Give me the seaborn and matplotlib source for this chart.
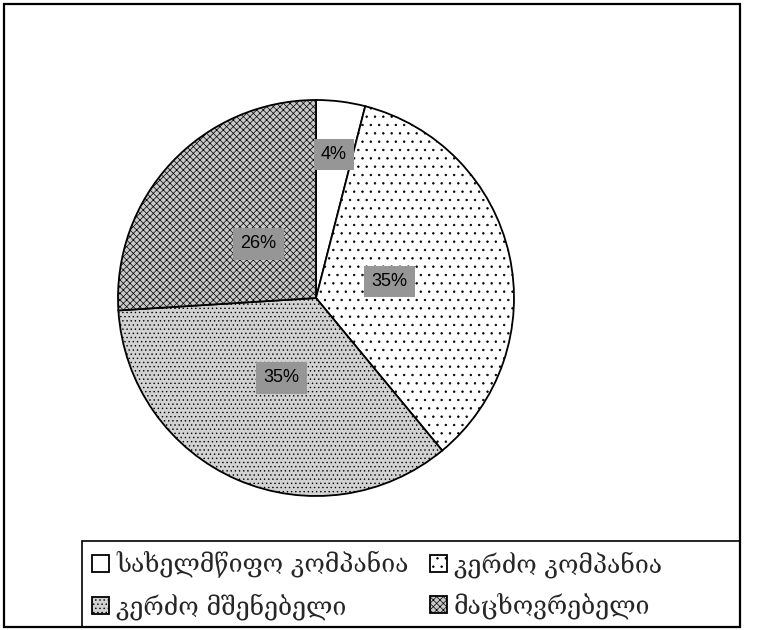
import matplotlib
matplotlib.use("Agg")
import matplotlib.pyplot as plt
import numpy as np
import seaborn as sns
from matplotlib.patches import Rectangle

sns.set_theme(style="white")
plt.rcParams["font.family"] = ["DejaVu Serif", "DejaVu Sans"]
plt.rcParams["hatch.linewidth"] = 0.5

# data
categories = ["სახელმწიფო კომპანია", "კერძო კომპანია", "კერძო მშენებელი", "მაცხოვრებელი"]
shares = [4, 35, 35, 26]

# styles
hatches = ["", "..", "....", "xxxxx"]
faces = ["white", "white", "#d2d2d2", "#c8c8c8"]
label_r = [0.73, 0.38, 0.44, 0.40]

W, H = 779, 630
fig = plt.figure(figsize=(W / 100, H / 100), dpi=100)

cx, cy, R = 316, 298, 198
ax = fig.add_axes([(cx - R) / W, (H - cy - R) / H, 2 * R / W, 2 * R / H])
wedges, _ = ax.pie(shares, startangle=90, counterclock=False,
                   colors=faces, wedgeprops=dict(edgecolor="black", linewidth=1.3))
for w, h in zip(wedges, hatches):
    w.set_hatch(h)

for w, val, r in zip(wedges, shares, label_r):
    ang = np.deg2rad((w.theta1 + w.theta2) / 2)
    ax.text(r * np.cos(ang), r * np.sin(ang), f"{val}%", ha="center", va="center",
            fontsize=13, family="Liberation Sans", color="black",
            bbox=dict(boxstyle="square,pad=0.4", facecolor="#969696", edgecolor="none"))

ax.set_xlim(-1, 1)
ax.set_ylim(-1, 1)
ax.set_aspect("equal")
ax.axis("off")

# outer frame and legend box
fig.add_artist(Rectangle((4 / W, 3 / H), 736 / W, 623 / H, transform=fig.transFigure,
                         fill=False, edgecolor="black", linewidth=1.6))
fig.add_artist(Rectangle((82 / W, 3 / H), 658 / W, 86 / H, transform=fig.transFigure,
                         fill=False, edgecolor="black", linewidth=1.2))

# row-major order: 1 2 / 3 4
order = [0, 2, 1, 3]
leg = fig.legend([wedges[i] for i in order], [categories[i] for i in order], ncol=2,
                 loc="upper left", bbox_to_anchor=(92 / W, (H - 551) / H),
                 fontsize=17.8, frameon=False,
                 handlelength=0.68, handleheight=0.68, handletextpad=0.3,
                 columnspacing=0.85, borderpad=0.0, labelspacing=0.6, borderaxespad=0)

fig.savefig("out.png", dpi=100)
